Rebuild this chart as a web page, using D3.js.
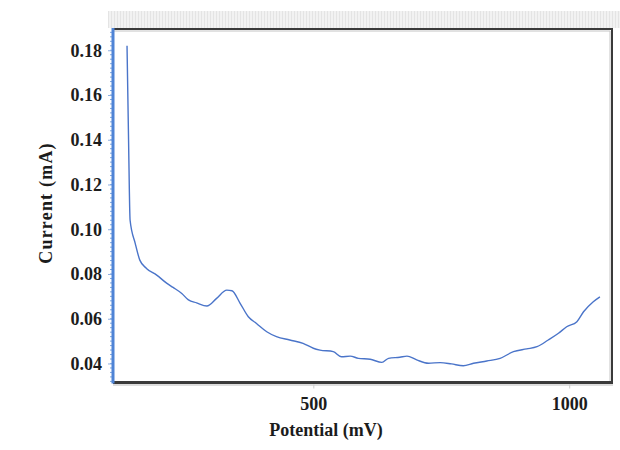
<!DOCTYPE html>
<html><head><meta charset="utf-8">
<script src="https://cdn.jsdelivr.net/npm/d3@7"></script>
<style>
html,body{margin:0;padding:0;background:#fff;}
svg{display:block;}
.lbl{font-family:"Liberation Serif","Times New Roman",serif;font-weight:bold;fill:#1c1c1c;}
</style></head>
<body>
<svg id="c" width="620" height="450"></svg>
<script>
// Data (Potential in mV, Current in mA)
const potential = [136,139,142,152,161,174,194,214,226,243,256,272,292,311,331,341,357,373,389,409,428,454,480,500,513,539,555,572,588,611,634,647,669,683,702,725,748,770,793,813,839,865,891,917,937,959,979,995,1015,1028,1047,1060];
const current   = [0.182,0.140,0.104,0.0937,0.0862,0.0825,0.0795,0.0758,0.0740,0.0713,0.0684,0.0671,0.0657,0.0691,0.0728,0.0725,0.0669,0.0609,0.0579,0.0542,0.0520,0.0505,0.0490,0.0468,0.0460,0.0453,0.0430,0.0433,0.0423,0.0419,0.0405,0.0423,0.0428,0.0433,0.0416,0.0401,0.0404,0.0398,0.0390,0.0401,0.0411,0.0423,0.0453,0.0465,0.0475,0.0505,0.0535,0.0564,0.0587,0.0631,0.0676,0.0698];
const yTicks = [0.04,0.06,0.08,0.10,0.12,0.14,0.16,0.18];
const xTicks = [500,1000];
const xDomain = [108.6,1083.6];
const yDomain = [0.0315,0.1895];
const xTitle = "Potential (mV)";
const yTitle = "Current (mA)";

const svg = d3.select("#c");
const L=113, R=612, T=29, B=382.5;
const x = d3.scaleLinear().domain(xDomain).range([L,R]);
const y = d3.scaleLinear().domain(yDomain).range([B,T]);

// top striped band
const defs = svg.append("defs");
const pat = defs.append("pattern").attr("id","stripe").attr("width",3).attr("height",4).attr("patternUnits","userSpaceOnUse");
pat.append("rect").attr("width",3).attr("height",4).attr("fill","#f2f2f2");
pat.append("rect").attr("width",1).attr("height",4).attr("fill","#e4e4e4");
svg.append("rect").attr("x",108).attr("y",11).attr("width",512).attr("height",17).attr("fill","url(#stripe)");

// plot background
svg.append("rect").attr("x",L).attr("y",T).attr("width",R-L).attr("height",B-T).attr("fill","#fff");

// frame: top, right, bottom
svg.append("path").attr("d",`M${L},${T}H${R}V${B}`).attr("fill","none").attr("stroke","#3a3a3a").attr("stroke-width",2);
svg.append("path").attr("d",`M${L},${T+2}H${R-2}V${B}`).attr("fill","none").attr("stroke","#c4c4c4").attr("stroke-width",1);
svg.append("line").attr("x1",L).attr("x2",R+1).attr("y1",B).attr("y2",B).attr("stroke","#3a3a3a").attr("stroke-width",3);
svg.append("line").attr("x1",L).attr("x2",R+1).attr("y1",B+2.5).attr("y2",B+2.5).attr("stroke","#bbb").attr("stroke-width",1);

// x ticks (faint) and labels
const xAxis = d3.axisBottom(x).tickValues(xTicks).tickSize(4).tickFormat(d3.format("d"));
const gx = svg.append("g").attr("transform",`translate(0,${B+2})`).call(xAxis);
gx.select(".domain").remove();
gx.selectAll(".tick line").attr("stroke","#ccc");
gx.selectAll(".tick text").attr("class","lbl").attr("font-size",18).attr("dy","1.05em");

// y axis: blue line with minor ticks
const minor = d3.range(0.032,0.1895,0.002);
svg.append("g").selectAll("line").data(minor).join("line")
  .attr("x1",L-3).attr("x2",L).attr("y1",d=>y(d)).attr("y2",d=>y(d))
  .attr("stroke","#7fa6e0").attr("stroke-width",1);
const yAxis = d3.axisLeft(y).tickValues(yTicks).tickSize(5).tickPadding(6).tickFormat(d3.format(".2f"));
const gy = svg.append("g").attr("transform",`translate(${L},0)`).call(yAxis);
gy.select(".domain").remove();
gy.selectAll(".tick line").attr("stroke","#8fb0e3");
gy.selectAll(".tick text").attr("class","lbl").attr("font-size",18);
svg.append("line").attr("x1",L).attr("x2",L).attr("y1",T-1).attr("y2",B+1).attr("stroke","#4f84d6").attr("stroke-width",3);

// curve
const line = d3.line().x((d,i)=>x(potential[i])).y(d=>y(d)).curve(d3.curveMonotoneX);
svg.append("path").datum(current).attr("d",line).attr("fill","none").attr("stroke","#4a74c9").attr("stroke-width",1.4);

// titles
svg.append("text").attr("class","lbl").attr("x",326).attr("y",436).attr("text-anchor","middle").attr("font-size",18).text(xTitle);
svg.append("text").attr("class","lbl").attr("transform","translate(52,203) rotate(-90)").attr("text-anchor","middle").attr("font-size",18).attr("letter-spacing","1.2px").text(yTitle);
</script>
</body></html>
